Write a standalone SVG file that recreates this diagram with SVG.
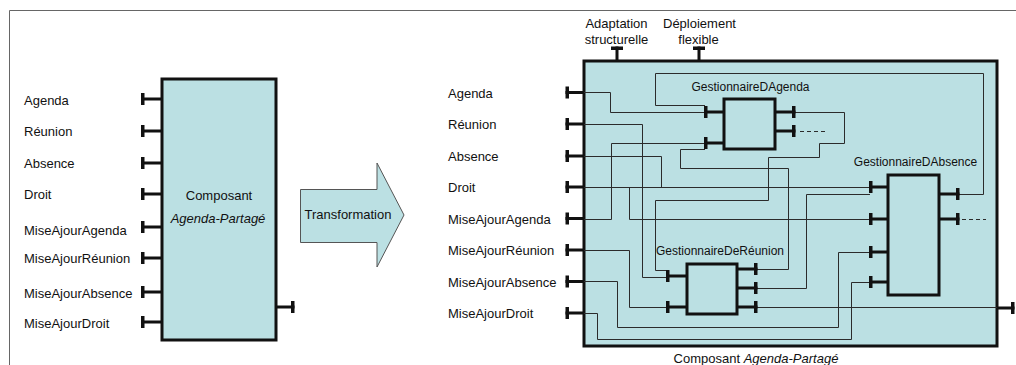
<svg xmlns="http://www.w3.org/2000/svg" xmlns:xlink="http://www.w3.org/1999/xlink" width="1016" height="365" viewBox="0 0 1016 365">
  <style>
    text { font-family: "Liberation Sans", Arial, sans-serif; fill: #111; }
    .lbl { font-size: 13px; }
    .big { font-size: 13px; }
    .gname { font-size: 12px; text-anchor: middle; }
    .mid { text-anchor: middle; }
    .comp { fill: #bbe0e3; stroke: #111; stroke-width: 3; }
    .mgr { fill: #bbe0e3; stroke: #111; stroke-width: 3; }
    .pin { fill: #111; }
    .wire { fill: none; stroke: #2b2b2b; stroke-width: 1; }
    .dash { fill: none; stroke: #2b2b2b; stroke-width: 1; stroke-dasharray: 4 3; }
    .frame { fill: none; stroke: #666; stroke-width: 1; }
  </style>
  <defs>
    <!-- port stub: bar at the origin, stem running +x -->
    <g id="pin" class="pin">
      <rect x="-1.5" y="-1.5" width="21.5" height="3"/>
      <rect x="-1.5" y="-6" width="3.5" height="12"/>
    </g>
  </defs>

  <rect width="1016" height="365" fill="#fff"/>
  <path class="frame" d="M9.5,365 V10.5 H1016"/>

  <!-- original component -->
  <g id="composant-initial">
    <use xlink:href="#pin" x="142.5" y="99"/>
    <use xlink:href="#pin" x="142.5" y="131"/>
    <use xlink:href="#pin" x="142.5" y="163"/>
    <use xlink:href="#pin" x="142.5" y="194"/>
    <use xlink:href="#pin" x="142.5" y="227"/>
    <use xlink:href="#pin" x="142.5" y="258"/>
    <use xlink:href="#pin" x="142.5" y="292"/>
    <use xlink:href="#pin" x="142.5" y="322"/>
    <use xlink:href="#pin" transform="translate(293,307) scale(-1,1)"/>
    <rect class="comp" x="162" y="79" width="114" height="261"/>
    <text class="lbl" x="24" y="104.5">Agenda</text>
    <text class="lbl" x="24" y="136">Réunion</text>
    <text class="lbl" x="24" y="168">Absence</text>
    <text class="lbl" x="24" y="199">Droit</text>
    <text class="lbl" x="24" y="234.5">MiseAjourAgenda</text>
    <text class="lbl" x="24" y="263">MiseAjourRéunion</text>
    <text class="lbl" x="24" y="297.5">MiseAjourAbsence</text>
    <text class="lbl" x="24" y="327.5">MiseAjourDroit</text>
    <text class="big mid" x="219" y="199.5">Composant</text>
    <text class="big mid" x="218" y="222.5" font-style="italic">Agenda-Partagé</text>
  </g>

  <!-- transformation arrow -->
  <g id="transformation">
    <polygon points="300.5,189.5 377,189.5 377,163 404,215 377,267 377,242.5 300.5,242.5" fill="#bbe0e3" stroke="#555" stroke-width="1"/>
    <text class="big mid" x="348" y="219">Transformation</text>
  </g>

  <!-- resulting composite component -->
  <g id="composant-transforme">
    <use xlink:href="#pin" x="567" y="92.5"/>
    <use xlink:href="#pin" x="567" y="124"/>
    <use xlink:href="#pin" x="567" y="156"/>
    <use xlink:href="#pin" x="567" y="187"/>
    <use xlink:href="#pin" x="567" y="218.5"/>
    <use xlink:href="#pin" x="567" y="250"/>
    <use xlink:href="#pin" x="567" y="281.5"/>
    <use xlink:href="#pin" x="567" y="313"/>
    <use xlink:href="#pin" transform="translate(617,48) rotate(90)"/>
    <use xlink:href="#pin" transform="translate(699,48) rotate(90)"/>
    <use xlink:href="#pin" transform="translate(1013,308) scale(-1,1)"/>
    <rect class="comp" x="584" y="61" width="413" height="285"/>
    <text class="lbl" x="448" y="97.5">Agenda</text>
    <text class="lbl" x="448" y="129">Réunion</text>
    <text class="lbl" x="448" y="161">Absence</text>
    <text class="lbl" x="448" y="192">Droit</text>
    <text class="lbl" x="448" y="223.5">MiseAjourAgenda</text>
    <text class="lbl" x="448" y="255">MiseAjourRéunion</text>
    <text class="lbl" x="448" y="286.5">MiseAjourAbsence</text>
    <text class="lbl" x="448" y="318">MiseAjourDroit</text>
    <text class="big mid" x="616.5" y="28">Adaptation</text>
    <text class="big mid" x="616.5" y="43.5">structurelle</text>
    <text class="big mid" x="699.5" y="28">Déploiement</text>
    <text class="big mid" x="698.5" y="43.5">flexible</text>
    <text class="big mid" x="756" y="363">Composant <tspan font-style="italic">Agenda-Partagé</tspan></text>
  </g>

  <!-- internal wiring -->
  <g id="connecteurs">
    <path class="wire" d="M584,92.5 H610.5 V112.5 H705"/>
    <path class="wire" d="M584,124.5 H642.5 V277.5 H667"/>
    <path class="wire" d="M584,156.5 H661.5 V187.5"/>
    <path class="wire" d="M584,187.5 H870"/>
    <path class="wire" d="M629.5,187.5 V219.5 H870"/>
    <path class="wire" d="M584,219.5 H611.5 V143.5 H705"/>
    <path class="wire" d="M794,112.5 H844.5 V143.5 H819.5 V157.5 H768.5 V200.5 H655.5 V270.5 H667"/>
    <path class="wire" d="M958,194.5 H983.5 V73.5 H655.5 V105.5 H705"/>
    <path class="wire" d="M756,269.5 H788.5 V168.5 H680.5 V149.5 H705"/>
    <path class="wire" d="M756,288.5 H806.5 V194.5 H870"/>
    <path class="wire" d="M756,307.5 H997"/>
    <path class="wire" d="M584,250.5 H629.5 V307.5 H667"/>
    <path class="wire" d="M584,281.5 H617.5 V327.5 H838.5 V252.5 H870"/>
    <path class="wire" d="M584,313.5 H597.5 V339.5 H851.5 V282.5 H870"/>
    <path class="dash" d="M800,131.5 H827"/>
    <path class="dash" d="M962,219.5 H986"/>
  </g>

  <g id="gestionnaire-agenda">
    <use xlink:href="#pin" x="705.5" y="112"/>
    <use xlink:href="#pin" x="705.5" y="143"/>
    <use xlink:href="#pin" transform="translate(794,112) scale(-1,1)"/>
    <use xlink:href="#pin" transform="translate(794,131) scale(-1,1)"/>
    <rect class="mgr" x="724" y="99" width="51" height="50"/>
    <text class="gname" x="750.5" y="91">GestionnaireDAgenda</text>
  </g>

  <g id="gestionnaire-absence">
    <use xlink:href="#pin" x="870.5" y="187"/>
    <use xlink:href="#pin" x="870.5" y="219"/>
    <use xlink:href="#pin" x="870.5" y="252"/>
    <use xlink:href="#pin" x="870.5" y="282"/>
    <use xlink:href="#pin" transform="translate(958,194) scale(-1,1)"/>
    <use xlink:href="#pin" transform="translate(958,219) scale(-1,1)"/>
    <rect class="mgr" x="888" y="175" width="51" height="120"/>
    <text class="gname" x="915.5" y="166">GestionnaireDAbsence</text>
  </g>

  <g id="gestionnaire-reunion">
    <use xlink:href="#pin" x="667.5" y="276"/>
    <use xlink:href="#pin" x="667.5" y="307"/>
    <use xlink:href="#pin" transform="translate(756,269) scale(-1,1)"/>
    <use xlink:href="#pin" transform="translate(756,288) scale(-1,1)"/>
    <use xlink:href="#pin" transform="translate(756,307) scale(-1,1)"/>
    <rect class="mgr" x="687" y="264" width="50" height="50"/>
    <text class="gname" x="720" y="254.5">GestionnaireDeRéunion</text>
  </g>
</svg>
